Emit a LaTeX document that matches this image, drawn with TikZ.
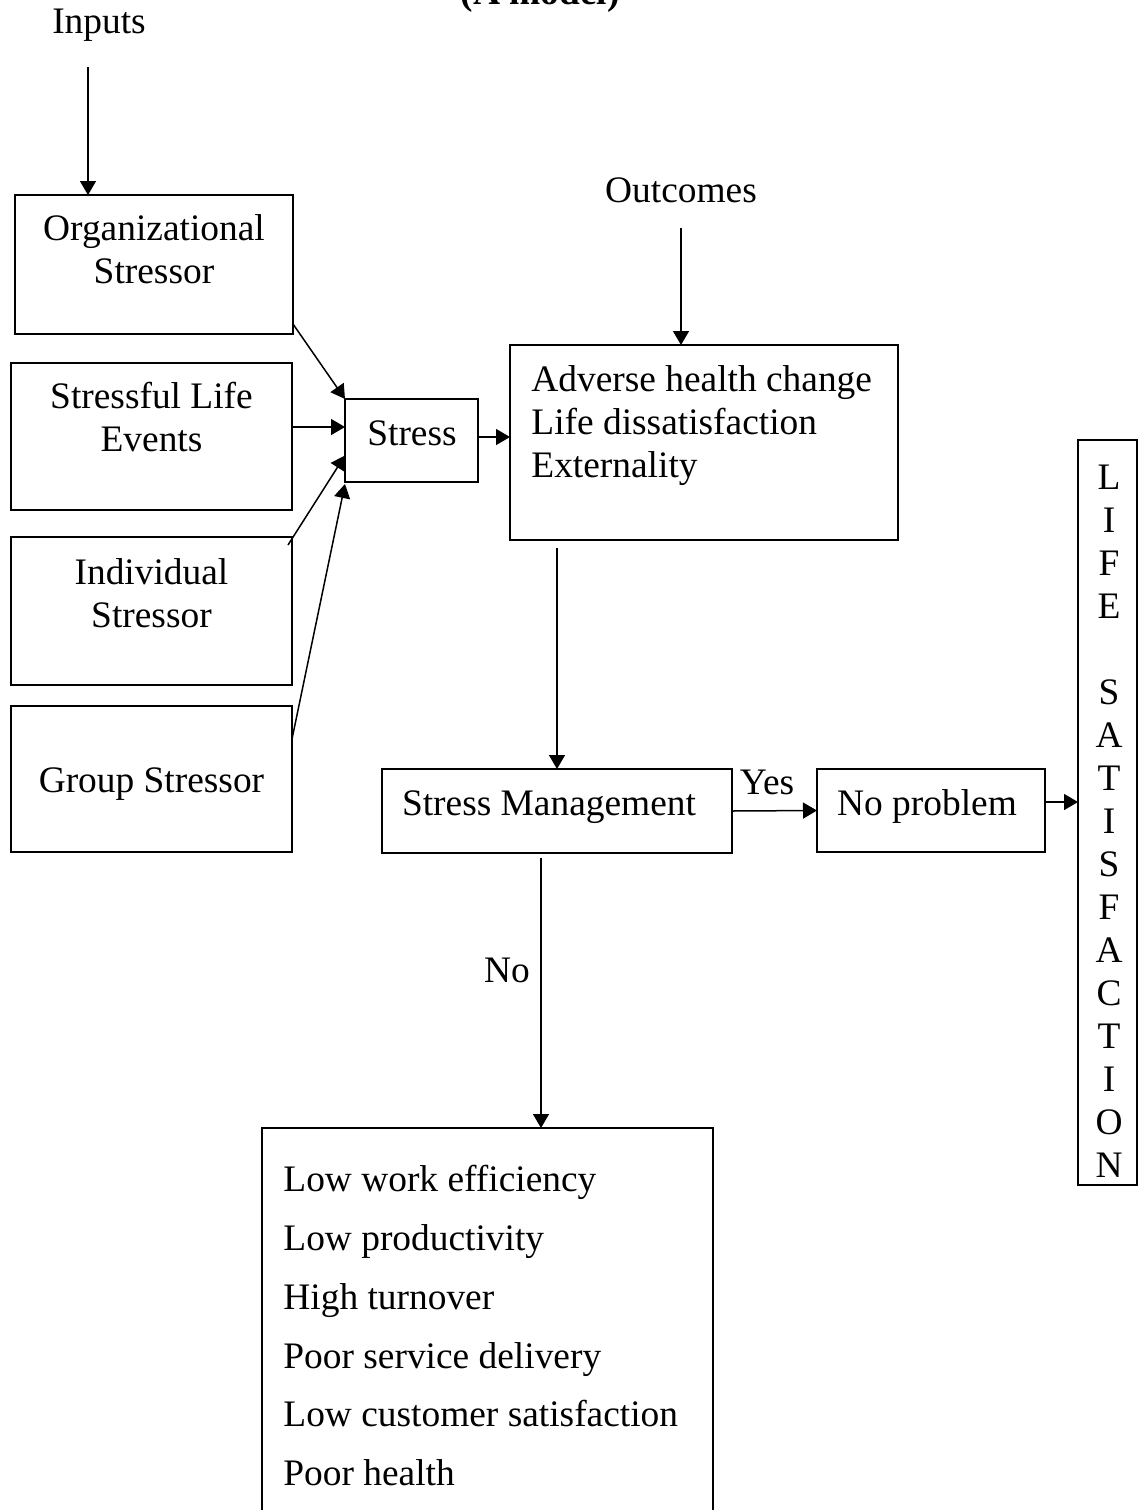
\documentclass[tikz,border=0pt]{standalone}
\usepackage{fontspec}
\setmainfont{Liberation Serif}
\usetikzlibrary{arrows.meta, positioning, calc}
\tikzset{
  %% plain rectangle box
  sbox/.style={
    rectangle, draw=black, line width=0.75pt,
    inner sep=0pt, outer sep=0pt
  },
  %% text set inside or beside the boxes
  txt/.style={
    font=\fontsize{18.7}{21.5}\selectfont,
    align=center, inner sep=0pt
  },
  %% Arrow
  arr/.style={-{Triangle[length=7pt,width=8pt]},
              draw=black, line width=0.75pt},
}

\begin{document}
\begin{tikzpicture}[x=0.5pt, y=-0.5pt]

  \useasboundingbox (0,0) rectangle (1139,1510);
  \clip (0,0) rectangle (1139,1510);

  %% ---- title (cut at the top) ----
  \node[txt, font=\fontsize{18.7}{21.5}\selectfont\bfseries, anchor=base]
       (title) at (540,4) {(A model)};

  %% ---- Inputs ----
  \node[txt] (inputs) at (99,25) {Inputs};
  \coordinate (inp-a) at (88,67);

  \node[sbox, minimum width=139pt, minimum height=69.5pt] (org)
       at (154,264.5) {};
  \node[txt] (org-t) at (154,249) {Organizational\\Stressor};

  \node[sbox, minimum width=140.5pt, minimum height=73.5pt] (sle)
       at (151.5,436.5) {};
  \node[txt] (sle-t) at (151.5,417) {Stressful Life\\Events};

  \node[sbox, minimum width=140.5pt, minimum height=74pt] (ind)
       at (151.5,611) {};
  \node[txt] (ind-t) at (151.5,593) {Individual\\Stressor};

  \node[sbox, minimum width=140.5pt, minimum height=73pt] (grp)
       at (151.5,779) {};
  \node[txt] (grp-t) at (151.5,784) {Group Stressor};

  %% ---- Stress ----
  \node[sbox, minimum width=66.5pt, minimum height=41.5pt] (stress)
       at (411.5,440.5) {};
  \node[txt] (stress-t) at (412,433) {Stress};

  %% ---- Outcomes ----
  \node[txt] (outcomes) at (681,190) {Outcomes};
  \coordinate (out-a) at (681,228);

  \node[sbox, minimum width=194pt, minimum height=97.5pt] (out)
       at (704,442.5) {};
  \node[txt, align=left, anchor=north west] (out-t) at (531,365)
       {Adverse health change\\Life dissatisfaction\\Externality};

  %% ---- Stress Management ----
  \node[sbox, minimum width=175pt, minimum height=42pt] (sm)
       at (557,811) {};
  \node[txt] (sm-t) at (549,807) {Stress Management};

  \node[sbox, minimum width=114pt, minimum height=41.5pt] (np)
       at (931,810.5) {};
  \node[txt] (np-t) at (927,806) {No problem};

  \node[txt] (yes) at (767,782) {Yes};
  \node[txt] (no) at (507,970) {No};

  %% ---- Life satisfaction ----
  \node[sbox, minimum width=29.5pt, minimum height=372.5pt] (life)
       at (1107.5,812.5) {};
  \node[txt, anchor=north] (life-t) at (1109,465)
       {L\\I\\F\\E\\\mbox{}\\S\\A\\T\\I\\S\\F\\A\\C\\T\\I\\O\\N};

  %% ---- bad outcomes (runs off the page) ----
  \node[sbox, anchor=north, minimum width=225.5pt, minimum height=230pt]
       (low) at (487.5,1128) {};
  \node[txt, font=\fontsize{18.7}{29.4}\selectfont, align=left,
        anchor=north west] (low-t) at (283,1165)
       {Low work efficiency\\Low productivity\\High turnover\\%
        Poor service delivery\\Low customer satisfaction\\Poor health};

  %% ---- connectors ----
  \draw[arr] (inp-a) -- (inp-a |- org.north);
  \draw[arr] (out-a) -- (out-a |- out.north);

  \draw[arr] ([yshift=5pt]org.south east) -- (stress.north west);
  \draw[arr] ([yshift=4.75pt]sle.east) -- ([yshift=4.75pt]sle.east -| stress.west);
  \draw[arr] ([shift={(-2pt,-4pt)}]ind.north east)
             -- ([yshift=-7.5pt]stress.west);
  \draw[arr] ([yshift=20pt]grp.east) -- ([yshift=-1pt]stress.south west);

  \draw[arr] ([yshift=1.75pt]stress.east) -- ([yshift=1.75pt]stress.east -| out.west);
  \draw[arr] ([shift={(-73.5pt,-4pt)}]out.south) -- ([xshift=-73.5pt]out.south |- sm.north);
  \draw[arr] (sm.east) -- (np.west);
  \draw[arr] ([yshift=4.25pt]np.east) -- ([yshift=4.25pt]np.east -| life.west);
  \draw[arr] ([shift={(-8pt,-2.5pt)}]sm.south) -- ([xshift=-8pt]sm.south |- low.north);

\end{tikzpicture}
\end{document}
